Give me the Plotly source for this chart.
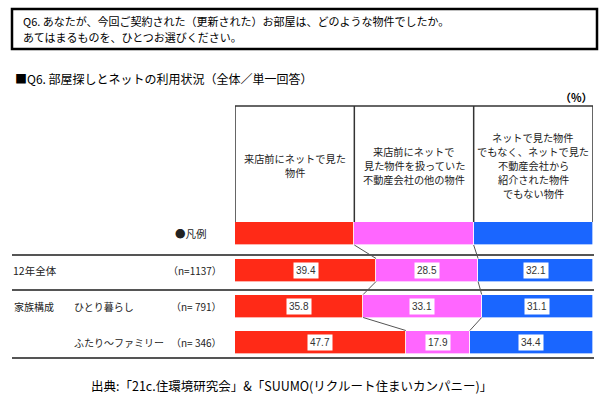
import plotly.graph_objects as go

# ---- data ----
question_lines = ["Q6. あなたが、今回ご契約された（更新された）お部屋は、どのような物件でしたか。",
                  "あてはまるものを、ひとつお選びください。"]
series_names = [["来店前にネットで見た", "物件"],
                ["来店前にネットで", "見た物件を扱っていた", "不動産会社の他の物件"],
                ["ネットで見た物件", "でもなく、ネットで見た", "不動産会社から", "紹介された物件", "でもない物件"]]
row_labels = ["12年全体", "ひとり暮らし", "ふたり～ファミリー"]
group_label = "家族構成"
n_labels = ["（n=1137）", "（n= 791）", "（n= 346）"]
val_net_seen = [39.4, 35.8, 47.7]
val_same_agent = [28.5, 33.1, 17.9]
val_other = [32.1, 31.1, 34.4]
legend_vals = [100 / 3, 100 / 3, 100 / 3]

colors = ["#FF2A17", "#FF66FF", "#1A66FF"]

W, H = 608, 406
FONT = "Noto Sans CJK JP"
TXT = "#222222"

# vertical positions (pixel coords on a pixel-mapped y axis)
legend_y = 233.5
row_y = [270, 306, 342]
bar_h = 23

fig = go.Figure()
series = [val_net_seen, val_same_agent, val_other]
for i in range(3):
    fig.add_trace(go.Bar(
        orientation="h",
        y=[legend_y] + row_y,
        x=[legend_vals[i]] + series[i],
        width=bar_h,
        marker=dict(color=colors[i], line=dict(color="rgba(255,255,255,0.8)", width=0.8)),
        hoverinfo="skip",
        showlegend=False,
    ))

def px(x):
    return x / W

shapes = []
annotations = []

# question box
shapes.append(dict(type="rect", xref="paper", yref="y", x0=px(12), x1=px(597), y0=9, y1=49,
                   line=dict(color="#000000", width=2.5)))
for k, (line, yy) in enumerate(zip(question_lines, [20.8, 36.6])):
    annotations.append(dict(xref="paper", yref="y", x=px(21), y=yy, xanchor="left", yanchor="middle",
                            text=line, showarrow=False, font=dict(family=FONT, size=11, color="#000")))

# title
annotations.append(dict(xref="paper", yref="y", x=px(13), y=78, xanchor="left", yanchor="middle",
                        text="■Q6. 部屋探しとネットの利用状況（全体／単一回答）",
                        showarrow=False, font=dict(family=FONT, size=12, color="#000")))
annotations.append(dict(xref="paper", yref="y", x=px(595), y=97, xanchor="right", yanchor="middle",
                        text="<b>（%）</b>", showarrow=False, font=dict(family=FONT, size=11, color="#000")))

# header box
hdr_top, hdr_bot = 106, 222
hdr_mid, hdr_step = 165, 14
edges = [0, 100 / 3, 200 / 3, 100]
shapes.append(dict(type="line", xref="x", yref="y", x0=0, x1=100, y0=hdr_top, y1=hdr_top,
                   line=dict(color="#333", width=1.5)))
for e in edges:
    shapes.append(dict(type="line", xref="x", yref="y", x0=e, x1=e, y0=hdr_top, y1=hdr_bot,
                       line=dict(color="#333", width=1.5)))
for i, lines in enumerate(series_names):
    n = len(lines)
    for k, line in enumerate(lines):
        annotations.append(dict(xref="x", yref="y", x=(edges[i] + edges[i + 1]) / 2,
                                y=hdr_mid + (k - (n - 1) / 2) * hdr_step,
                                xanchor="center", yanchor="middle", text=line, align="center",
                                showarrow=False, font=dict(family=FONT, size=10.2, color=TXT)))

annotations.append(dict(xref="paper", yref="y", x=px(209), y=legend_y, xanchor="right", yanchor="middle",
                        text="●凡例", showarrow=False, font=dict(family=FONT, size=10.5, color=TXT)))

# separator lines
for yy in [255, 290, 358]:
    shapes.append(dict(type="line", xref="paper", yref="y", x0=px(12), x1=px(594), y0=yy, y1=yy,
                       line=dict(color="#555", width=2)))

# row labels
annotations.append(dict(xref="paper", yref="y", x=px(11), y=row_y[0], xanchor="left", yanchor="middle",
                        text=row_labels[0], showarrow=False, font=dict(family=FONT, size=10.5, color=TXT)))
annotations.append(dict(xref="paper", yref="y", x=px(12), y=row_y[1], xanchor="left", yanchor="middle",
                        text=group_label, showarrow=False, font=dict(family=FONT, size=10, color=TXT)))
for i in (1, 2):
    annotations.append(dict(xref="paper", yref="y", x=px(72), y=row_y[i], xanchor="left", yanchor="middle",
                            text=row_labels[i], showarrow=False, font=dict(family=FONT, size=10, color=TXT)))
for i in range(3):
    annotations.append(dict(xref="paper", yref="y", x=px(224), y=row_y[i], xanchor="right", yanchor="middle",
                            text=n_labels[i], showarrow=False, font=dict(family=FONT, size=10, color=TXT)))

# data labels
for r in range(3):
    cum = 0
    for s in range(3):
        v = series[s][r]
        annotations.append(dict(xref="x", yref="y", x=cum + v / 2, y=row_y[r], xanchor="center",
                                yanchor="middle", text=f"{v:.1f}", showarrow=False, bgcolor="white",
                                borderpad=2, font=dict(family="Liberation Sans", size=10, color="#333")))
        cum += v

# connector lines between consecutive rows
all_rows = [legend_vals] + [[series[0][r], series[1][r], series[2][r]] for r in range(3)]
all_y = [legend_y] + row_y
for k in range(len(all_rows) - 1):
    a, b = all_rows[k], all_rows[k + 1]
    ca = [a[0], a[0] + a[1]]
    cb = [b[0], b[0] + b[1]]
    for j in range(2):
        shapes.append(dict(type="line", xref="x", yref="y", x0=ca[j], x1=cb[j],
                           y0=all_y[k] + bar_h / 2, y1=all_y[k + 1] - bar_h / 2,
                           line=dict(color="#555", width=1)))

# source
annotations.append(dict(xref="paper", yref="y", x=px(291), y=385, xanchor="center", yanchor="middle",
                        text="出典:「21c.住環境研究会」&「SUUMO(リクルート住まいカンパニー)」",
                        showarrow=False, font=dict(family=FONT, size=12.5, color="#000")))

fig.update_layout(
    width=W, height=H, margin=dict(l=0, r=0, t=0, b=0),
    paper_bgcolor="white", plot_bgcolor="white",
    barmode="stack", bargap=0,
    xaxis=dict(domain=[235 / W, 593 / W], range=[0, 100], visible=False, fixedrange=True),
    yaxis=dict(domain=[0, 1], range=[H, 0], visible=False, fixedrange=True),
    shapes=shapes, annotations=annotations,
)

fig.write_html("out.html", config={"displayModeBar": False},
               post_script="document.body.style.margin='0';document.body.style.overflow='hidden';")
